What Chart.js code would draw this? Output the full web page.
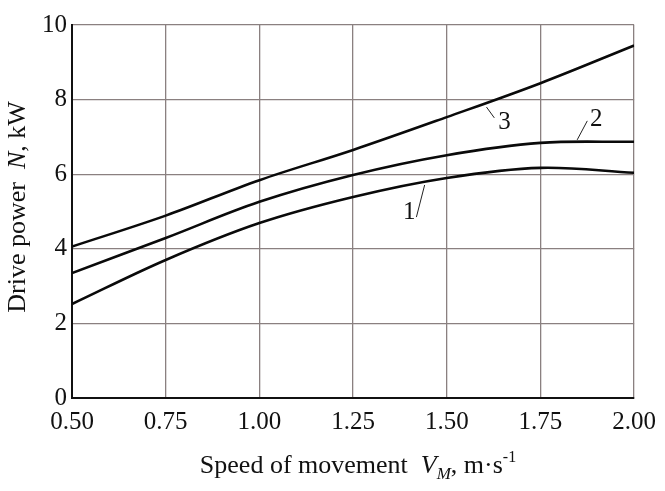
<!DOCTYPE html>
<html>
<head>
<meta charset="utf-8">
<script src="https://cdn.jsdelivr.net/npm/chart.js@4"></script>
<style>
  html, body { margin:0; padding:0; background:#fff; }
  #wrap { width:665px; height:491px; }
</style>
</head>
<body>
<div id="wrap"><canvas id="chart" width="665" height="491"></canvas></div>
<script>
// speed of movement, m/s
const speeds = [0.50, 0.75, 1.00, 1.25, 1.50, 1.75, 2.00];
// drive power N, kW for curves 1, 2, 3
const power1 = [2.52, 3.70, 4.69, 5.39, 5.90, 6.17, 6.04];
const power2 = [3.35, 4.29, 5.26, 5.98, 6.51, 6.84, 6.87];
const power3 = [4.06, 4.89, 5.84, 6.65, 7.53, 8.44, 9.45];
const curveNames = ['1', '2', '3'];

const FONT = '"Liberation Serif", "Times New Roman", serif';

function pts(ys){ return speeds.map((x, i) => ({ x, y: ys[i] })); }

// curve number labels with leader lines, in data units
const curveTags = [
  { name: curveNames[0], from: [1.441, 5.71], to: [1.419, 4.85], text: [1.40, 4.98] },
  { name: curveNames[1], from: [1.848, 6.92], to: [1.875, 7.43], text: [1.899, 7.48] },
  { name: curveNames[2], from: [1.606, 7.80], to: [1.627, 7.51], text: [1.654, 7.40] }
];

const tagPlugin = {
  id: 'tags',
  afterDatasetsDraw(chart){
    const { ctx, scales:{ x, y } } = chart;
    ctx.save();
    ctx.strokeStyle = '#222';
    ctx.lineWidth = 1;
    ctx.fillStyle = '#111';
    ctx.font = '25px ' + FONT;
    ctx.textAlign = 'center';
    ctx.textBaseline = 'middle';
    curveTags.forEach(t => {
      ctx.beginPath();
      ctx.moveTo(x.getPixelForValue(t.from[0]), y.getPixelForValue(t.from[1]));
      ctx.lineTo(x.getPixelForValue(t.to[0]), y.getPixelForValue(t.to[1]));
      ctx.stroke();
      ctx.fillText(t.name, x.getPixelForValue(t.text[0]), y.getPixelForValue(t.text[1]));
    });
    ctx.restore();
  }
};

// draws a run of text pieces: [text, italic, shift(px), size]
function drawRuns(ctx, runs, cx, cy){
  const fontOf = r => (r[1] ? 'italic ' : '') + (r[3] || 26) + 'px ' + FONT;
  const widths = runs.map(r => { ctx.font = fontOf(r); return ctx.measureText(r[0]).width; });
  let xPos = cx - widths.reduce((a, b) => a + b, 0) / 2;
  runs.forEach((r, i) => {
    ctx.font = fontOf(r);
    ctx.fillText(r[0], xPos, cy + (r[2] || 0));
    xPos += widths[i];
  });
}

const titlePlugin = {
  id: 'axisTitles',
  afterDraw(chart){
    const { ctx } = chart;
    ctx.save();
    ctx.fillStyle = '#111';
    ctx.textBaseline = 'alphabetic';
    ctx.textAlign = 'left';
    drawRuns(ctx, [['Speed of movement  ', false], ['V', true], ['M', true, 6, 17], [', m\u00b7s', false], ['-1', false, -11, 16]],
      358, 473);
    ctx.translate(25, 207);
    ctx.rotate(-Math.PI / 2);
    drawRuns(ctx, [['Drive power  ', false], ['N', true], [', kW', false]], 0, 0);
    ctx.restore();
  }
};

const line = (data) => ({
  data, showLine:true, borderColor:'#0a0a0a', borderWidth:2.6, pointRadius:0,
  tension:0.35, fill:false
});

new Chart(document.getElementById('chart').getContext('2d'), {
  type: 'scatter',
  data: { datasets: [ line(pts(power1)), line(pts(power2)), line(pts(power3)) ] },
  options: {
    responsive:false, animation:false,
    layout: { padding: { top:25, right:30, left:0, bottom:0 } },
    plugins: { legend:{ display:false }, tooltip:{ enabled:false } },
    scales: {
      x: {
        type:'linear', min:0.5, max:2.0,
        afterFit(s){ s.height = 93; },
        grid: { color:'#8a8080', lineWidth:1.3, drawTicks:false },
        border: { color:'#111', width:2 },
        ticks: { stepSize:0.25, padding:9, color:'#111', font:{ family:FONT, size:25 },
          callback: v => v.toFixed(2) }
      },
      y: {
        min:0, max:10,
        afterFit(s){ s.width = 72; },
        grid: { color:'#8a8080', lineWidth:1.3, drawTicks:false },
        border: { color:'#111', width:2 },
        ticks: { stepSize:2, padding:5, color:'#111', font:{ family:FONT, size:25 } }
      }
    }
  },
  plugins: [tagPlugin, titlePlugin]
});
</script>
</body>
</html>
